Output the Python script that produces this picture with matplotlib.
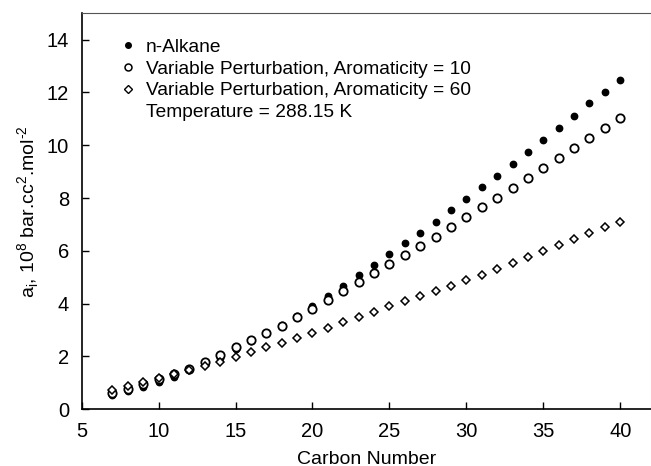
import matplotlib
matplotlib.use("Agg")
import matplotlib.pyplot as plt
from matplotlib.lines import Line2D

plt.rcParams['font.family'] = ['Liberation Sans', 'DejaVu Sans']
plt.rcParams['mathtext.fontset'] = 'custom'
plt.rcParams['mathtext.rm'] = 'Liberation Sans'

# carbon numbers and a_i values (10^8 bar.cc^2.mol^-2)
carbon = list(range(7, 41))
n_alkane = [0.55, 0.68, 0.84, 1.03, 1.24, 1.48, 1.70, 1.96, 2.28, 2.59,
            2.90, 3.19, 3.55, 3.91, 4.30, 4.68, 5.07, 5.48, 5.87, 6.29,
            6.69, 7.11, 7.54, 7.97, 8.41, 8.85, 9.29, 9.73, 10.20, 10.64,
            11.11, 11.59, 12.03, 12.47]
arom_10 = [0.62, 0.78, 0.95, 1.13, 1.32, 1.54, 1.80, 2.06, 2.35, 2.62,
           2.90, 3.17, 3.48, 3.80, 4.14, 4.47, 4.81, 5.15, 5.49, 5.83,
           6.19, 6.54, 6.89, 7.27, 7.65, 8.02, 8.39, 8.77, 9.13, 9.51,
           9.89, 10.27, 10.67, 11.05]
arom_60 = [0.72, 0.87, 1.03, 1.18, 1.34, 1.50, 1.63, 1.80, 1.98, 2.16,
           2.35, 2.52, 2.71, 2.89, 3.09, 3.30, 3.48, 3.69, 3.90, 4.09,
           4.29, 4.47, 4.67, 4.90, 5.10, 5.33, 5.55, 5.78, 6.00, 6.22,
           6.44, 6.67, 6.89, 7.11]

fig = plt.figure(figsize=(6.51, 4.66), dpi=100)
ax = fig.add_axes([0.1255, 0.1217, 0.8745, 0.8498])

ax.plot(carbon, n_alkane, 'o', color='black', markersize=4.6, linestyle='none')
ax.plot(carbon, arom_10, 'o', markerfacecolor='white', markeredgecolor='black',
        markeredgewidth=1.3, markersize=6, linestyle='none')
ax.plot(carbon, arom_60, 'D', markerfacecolor='white', markeredgecolor='black',
        markeredgewidth=1.1, markersize=4.5, linestyle='none')

ax.set_xlim(5, 42)
ax.set_ylim(0, 15)
ax.set_xticks([5, 10, 15, 20, 25, 30, 35, 40])
ax.set_yticks([0, 2, 4, 6, 8, 10, 12, 14])
ax.tick_params(direction='in', length=5, width=1, labelsize=14.5, pad=9)

for s in ['left', 'bottom']:
    ax.spines[s].set_linewidth(1.2)
ax.spines['top'].set_color('#555555')
ax.spines['right'].set_color('#cccccc')

ax.set_xlabel('Carbon Number', fontsize=14, labelpad=7)
ax.set_ylabel('a$_\\mathregular{i}$, 10$^\\mathregular{8}$ bar.cc$^\\mathregular{2}$.mol$^\\mathregular{\u20102}$',
              fontsize=14, labelpad=4)

handles = [
    Line2D([], [], marker='o', color='black', linestyle='none', markersize=4),
    Line2D([], [], marker='o', markerfacecolor='white', markeredgecolor='black',
           markeredgewidth=1.1, linestyle='none', markersize=5),
    Line2D([], [], marker='D', markerfacecolor='white', markeredgecolor='black',
           markeredgewidth=1.0, linestyle='none', markersize=4),
    Line2D([], [], linestyle='none'),
]
labels = ['n-Alkane', 'Variable Perturbation, Aromaticity = 10',
          'Variable Perturbation, Aromaticity = 60', 'Temperature = 288.15 K']
ax.legend(handles, labels, loc='upper left', frameon=False, fontsize=13.8,
          handlelength=0.8, handletextpad=0.5, labelspacing=0.22,
          borderaxespad=0, bbox_to_anchor=(0.055, 0.955))

fig.savefig('out.png', dpi=100)
